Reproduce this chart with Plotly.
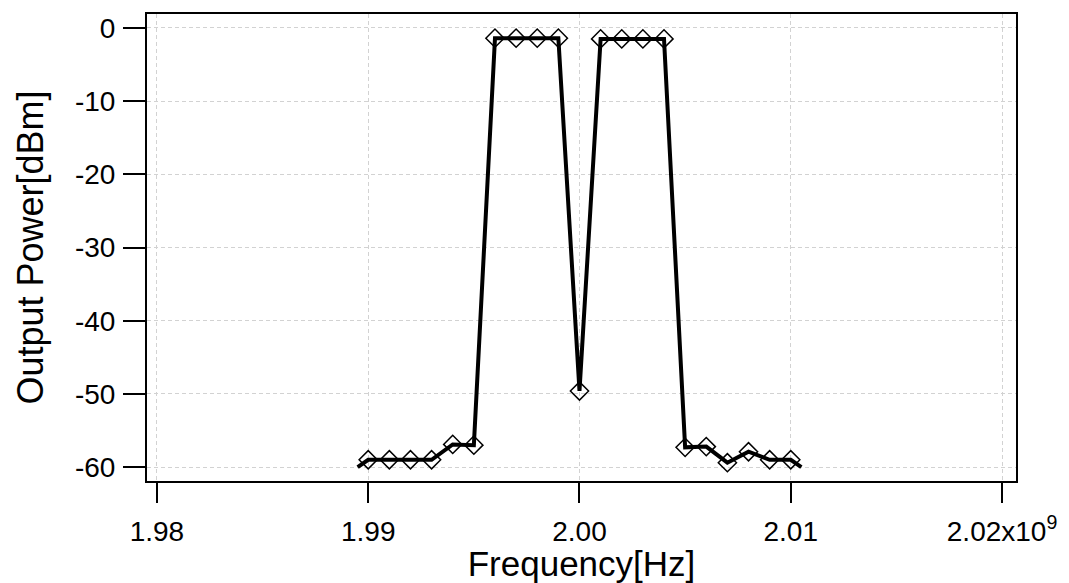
import plotly.graph_objects as go

# Marker data (Hz, dBm)
freq_ghz = [1.990, 1.991, 1.992, 1.993, 1.994, 1.995, 1.996, 1.997, 1.998, 1.999,
            2.000, 2.001, 2.002, 2.003, 2.004, 2.005, 2.006, 2.007, 2.008, 2.009, 2.010]
power_dbm = [-59.0, -59.0, -59.0, -59.0, -56.9, -57.0, -1.4, -1.4, -1.4, -1.4,
             -49.6, -1.5, -1.5, -1.5, -1.5, -57.3, -57.2, -59.4, -57.9, -59.0, -59.0]

# Line end points extend slightly beyond markers
line_start = (1.9895, -60.0)
line_end = (2.0105, -60.0)

x_tick_vals = [1.98, 1.99, 2.00, 2.01, 2.02]
x_tick_text = ["1.98", "1.99", "2.00", "2.01", "2.02x10<sup>9</sup>"]
y_tick_vals = [0, -10, -20, -30, -40, -50, -60]
y_tick_text = ["0", "-10", "-20", "-30", "-40", "-50", "-60"]

freq_hz = [f * 1e9 for f in freq_ghz]
line_x = [line_start[0] * 1e9] + freq_hz + [line_end[0] * 1e9]
line_y = [line_start[1]] + power_dbm + [line_end[1]]

fig = go.Figure()
fig.add_trace(go.Scatter(x=line_x, y=line_y, mode="lines",
                         line=dict(color="black", width=4), showlegend=False))
fig.add_trace(go.Scatter(x=freq_hz, y=power_dbm, mode="markers",
                         marker=dict(symbol="diamond-open", size=14, color="black",
                                     line=dict(width=1.5, color="black")),
                         showlegend=False))

font_family = "Liberation Sans, Arial, Helvetica, sans-serif"
grid_color = "#d2d2d2"
fig.update_layout(
    width=1069, height=583,
    margin=dict(l=147, r=48, t=14, b=102),
    plot_bgcolor="white", paper_bgcolor="white",
    font=dict(family=font_family, color="black", size=28),
    xaxis=dict(
        range=[1.97953e9, 2.02066e9],
        tickvals=[v * 1e9 for v in x_tick_vals], ticktext=x_tick_text,
        ticks="outside", ticklen=20, tickwidth=2, tickcolor="black",
        ticklabelstandoff=4,
        showline=True, linewidth=2, linecolor="black", mirror=True,
        showgrid=True, gridcolor=grid_color, gridwidth=1, griddash="4px,3px",
        zeroline=False,
        title=dict(text="Frequency[Hz]", font=dict(size=35), standoff=0),
        tickfont=dict(size=28),
    ),
    yaxis=dict(
        range=[-61.9, 1.9],
        tickvals=y_tick_vals, ticktext=y_tick_text,
        ticks="outside", ticklen=22, tickwidth=2, tickcolor="black",
        ticklabelstandoff=2,
        showline=True, linewidth=2, linecolor="black", mirror=True,
        showgrid=True, gridcolor=grid_color, gridwidth=1, griddash="4px,3px",
        zeroline=False,
        title=dict(text="Output Power[dBm]", font=dict(size=36), standoff=20),
        tickfont=dict(size=28),
    ),
)

fig.write_html("out.html")
